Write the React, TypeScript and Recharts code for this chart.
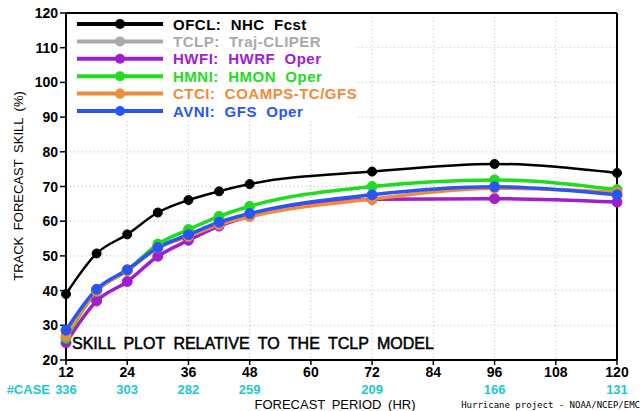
import React from "react";
import { LineChart, Line, XAxis, YAxis, CartesianGrid, ReferenceLine } from "recharts";

const hours = [12, 18, 24, 30, 36, 42, 48, 72, 96, 120];
const ofcl = [39.0, 50.7, 56.2, 62.5, 66.1, 68.6, 70.7, 74.3, 76.5, 73.9];
const hwfi = [25.0, 37.0, 42.6, 49.9, 54.5, 58.6, 61.4, 66.3, 66.5, 65.5];
const hmni = [26.3, 39.8, 45.8, 53.4, 57.6, 61.4, 64.3, 70.0, 71.9, 69.1];
const ctci = [27.0, 39.9, 45.7, 52.3, 55.6, 59.0, 61.3, 66.4, 69.5, 68.3];
const avni = [28.6, 40.4, 46.0, 52.4, 56.1, 59.7, 62.2, 67.6, 69.9, 67.6];

const xTicks = [12, 24, 36, 48, 60, 72, 84, 96, 108, 120];
const yTicks = [20, 30, 40, 50, 60, 70, 80, 90, 100, 110, 120];
const caseHours = [12, 24, 36, 48, 72, 96, 120];
const caseCounts = [336, 303, 282, 259, 209, 166, 131];

const series = [
  { key: "ofcl", label: "OFCL:  NHC  Fcst", color: "#000000", values: ofcl },
  { key: "tclp", label: "TCLP:  Traj-CLIPER", color: "#aaaaaa", values: null },
  { key: "hwfi", label: "HWFI:  HWRF  Oper", color: "#a01ecb", values: hwfi },
  { key: "hmni", label: "HMNI:  HMON  Oper", color: "#1fdc1f", values: hmni },
  { key: "ctci", label: "CTCI:  COAMPS-TC/GFS", color: "#f28a3a", values: ctci },
  { key: "avni", label: "AVNI:  GFS  Oper", color: "#2a55f5", values: avni },
];

const data = hours.map((h, i) => {
  const row: any = { h };
  series.forEach((s) => {
    if (s.values) row[s.key] = s.values[i];
  });
  return row;
});

const CYAN = "#1cc8cc";
const FONT = "'Liberation Sans', Arial, sans-serif";

const XTick = (props: any) => {
  const { x, y, payload } = props;
  const idx = caseHours.indexOf(payload.value);
  return (
    <g>
      <text x={x} y={y} dy={12} textAnchor="middle" fontFamily={FONT} fontWeight="bold" fontSize={14} fill="#000">
        {payload.value}
      </text>
      {idx >= 0 && (
        <text x={x} y={y} dy={29} textAnchor="middle" fontFamily={FONT} fontWeight="bold" fontSize={13} fill={CYAN}>
          {caseCounts[idx]}
        </text>
      )}
    </g>
  );
};

const YTick = (props: any) => {
  const { x, y, payload } = props;
  return (
    <text x={x} y={y} dy={5} textAnchor="end" fontFamily={FONT} fontWeight="bold" fontSize={14} fill="#000">
      {payload.value}
    </text>
  );
};

export default function App() {
  return (
    <div style={{ position: "absolute", left: 0, top: 0, width: 641, height: 411, background: "#fff" }}>
      <LineChart
        width={641}
        height={411}
        data={data}
        margin={{ top: 13, right: 24, bottom: 11, left: 26 }}
      >
        <CartesianGrid stroke="#bbbbbb" strokeDasharray="1 3" verticalValues={xTicks} horizontalValues={yTicks} />
        <XAxis
          dataKey="h"
          type="number"
          domain={[12, 120]}
          ticks={xTicks}
          interval={0}
          height={40}
          tick={<XTick />}
          tickSize={5}
          tickMargin={0}
          axisLine={{ stroke: "#000", strokeWidth: 2 }}
          tickLine={{ stroke: "#000", strokeWidth: 1.5 }}
        />
        <YAxis
          type="number"
          domain={[20, 120]}
          ticks={yTicks}
          interval={0}
          width={40}
          tick={<YTick />}
          tickSize={6}
          tickMargin={2}
          axisLine={{ stroke: "#000", strokeWidth: 2 }}
          tickLine={{ stroke: "#000", strokeWidth: 1.5 }}
        />
        <ReferenceLine y={120} stroke="#000" strokeWidth={2} />
        <ReferenceLine x={120} stroke="#000" strokeWidth={2} />
        {series
          .filter((s) => s.values)
          .map((s) => (
            <Line
              key={s.key}
              dataKey={s.key}
              type="monotone"
              stroke={s.color}
              strokeWidth={s.key === "ofcl" ? 2.5 : 3.5}
              dot={{ r: s.key === "ofcl" ? 4.5 : 5, fill: s.color, stroke: s.color, strokeWidth: 1 }}
              isAnimationActive={false}
            />
          ))}
      </LineChart>
      <svg width={641} height={411} style={{ position: "absolute", left: 0, top: 0, pointerEvents: "none" }}>
        <rect x={68} y={15} width={290} height={104} fill="#fff" />
        {series.map((s, i) => {
          const cy = 24 + i * 17.4;
          return (
            <g key={s.key}>
              <line x1={77} x2={163} y1={cy} y2={cy} stroke={s.color} strokeWidth={4} />
              <circle cx={120} cy={cy} r={5} fill={s.color} />
              <text x={173} y={cy + 5.5} fontFamily={FONT} fontWeight="bold" fontSize={15} fill={s.color} style={{ letterSpacing: "0.5px", whiteSpace: "pre" }}>
                {s.label}
              </text>
            </g>
          );
        })}
        <text x={72} y={349} fontFamily={FONT} fontSize={16} fill="#000" stroke="#000" strokeWidth={0.5} style={{ wordSpacing: "4px" }}>
          SKILL PLOT RELATIVE TO THE TCLP MODEL
        </text>
        <text x={50} y={394} textAnchor="end" fontFamily={FONT} fontWeight="bold" fontSize={13} fill={CYAN}>
          #CASE
        </text>
        <text x={335} y={409} textAnchor="middle" fontFamily={FONT} fontSize={13} fontWeight={500} fill="#000" style={{ wordSpacing: "3px" }}>
          FORECAST PERIOD (HR)
        </text>
        <text x={640} y={408} textAnchor="end" fontFamily="'DejaVu Sans Mono', monospace" fontSize={9} fill="#000">
          Hurricane project - NOAA/NCEP/EMC
        </text>
        <text
          transform="translate(23,186) rotate(-90)"
          textAnchor="middle"
          fontFamily={FONT}
          fontSize={13}
          fontWeight={500}
          fill="#000"
          style={{ wordSpacing: "3px" }}
        >
          TRACK FORECAST SKILL (%)
        </text>
      </svg>
    </div>
  );
}
